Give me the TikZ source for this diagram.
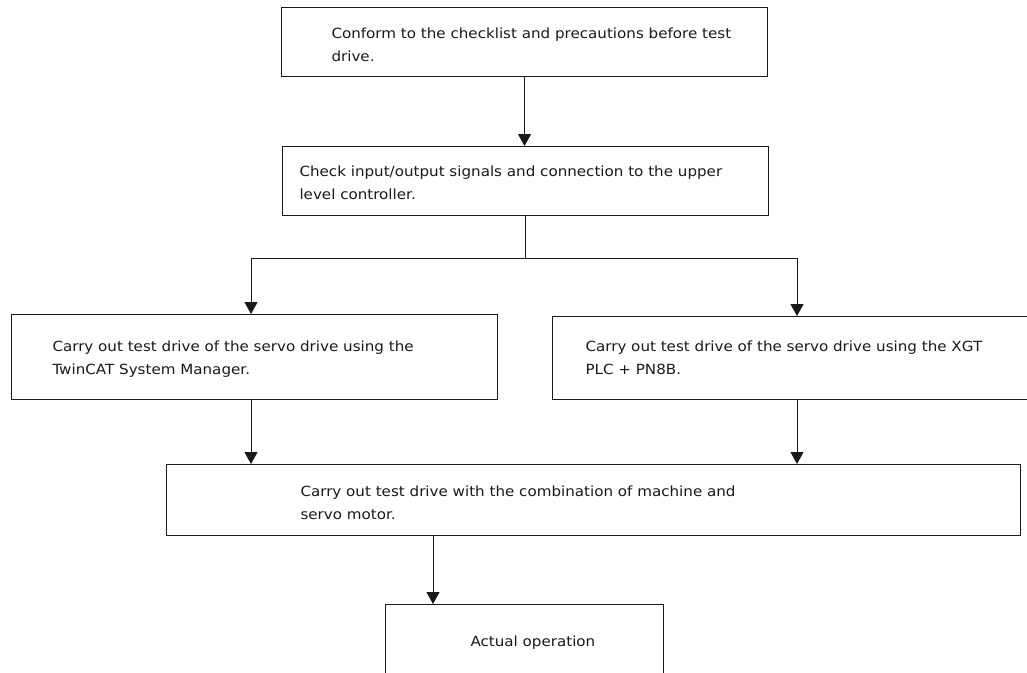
\documentclass[tikz,border=0pt]{standalone}
\usepackage{fontspec}
\setmainfont[FakeStretch=1.08]{DejaVu Sans}
\usetikzlibrary{arrows.meta}
\begin{document}
\begin{tikzpicture}[x=0.75pt,y=-0.75pt,line width=0.75pt,
  box/.style={draw=black!90, rectangle, inner sep=0pt, anchor=north west},
  txt/.style={anchor=north west, inner sep=0pt, align=left, text=black!90, font=\fontsize{10.5}{16.9}\selectfont},
  arr/.style={draw=black!90, -{Triangle[length=9pt,width=9.75pt]}}]
\useasboundingbox (0,0) rectangle (1027,672);
\clip (0,0) rectangle (1027,672);
% boxes
\node[box, minimum width=364.5pt, minimum height=51.75pt] (b1) at (281,7) {};
\node[box, minimum width=364.5pt, minimum height=51.75pt] (b2) at (282,146) {};
\node[box, minimum width=364.5pt, minimum height=63.75pt] (b3) at (11,314) {};
\node[box, minimum width=356.25pt, minimum height=62.25pt] (b4) at (552,316) {};
\node[box, minimum width=640.5pt, minimum height=53.25pt] (b5) at (166,464) {};
\node[box, minimum width=208.5pt, minimum height=67.5pt] (b6) at (385,604) {};
% texts
\node[txt] (t1) at (331,22.2) {\strut Conform to the checklist and precautions before test\\drive.};
\node[txt] (t2) at (299,160.2) {\strut Check input/output signals and connection to the upper\\level controller.};
\node[txt] (t3) at (52,335.2) {\strut Carry out test drive of the servo drive using the\\TwinCAT System Manager.};
\node[txt] (t4) at (585,335.2) {\strut Carry out test drive of the servo drive using the XGT\\PLC + PN8B.};
\node[txt] (t5) at (300,480.2) {\strut Carry out test drive with the combination of machine and\\servo motor.};
\node[txt] (t6) at (470,630.2) {\strut Actual operation};
% connectors
\coordinate (j) at (525,258);
\coordinate (jl) at (251,258);
\coordinate (jr) at (797,258);
\coordinate (m) at (433,0);
\draw[arr] (b1.south) -- (b1.south |- b2.north);
\draw[draw=black!90] (b2.south) -- (b2.south |- j);
\draw[draw=black!90] (jl) -- (jr);
\draw[arr] (jl) -- (jl |- b3.north);
\draw[arr] (jr) -- (jr |- b4.north);
\draw[arr] (jl |- b3.south) -- (jl |- b5.north);
\draw[arr] (jr |- b4.south) -- (jr |- b5.north);
\draw[arr] (m |- b5.south) -- (m |- b6.north);
\end{tikzpicture}
\end{document}
